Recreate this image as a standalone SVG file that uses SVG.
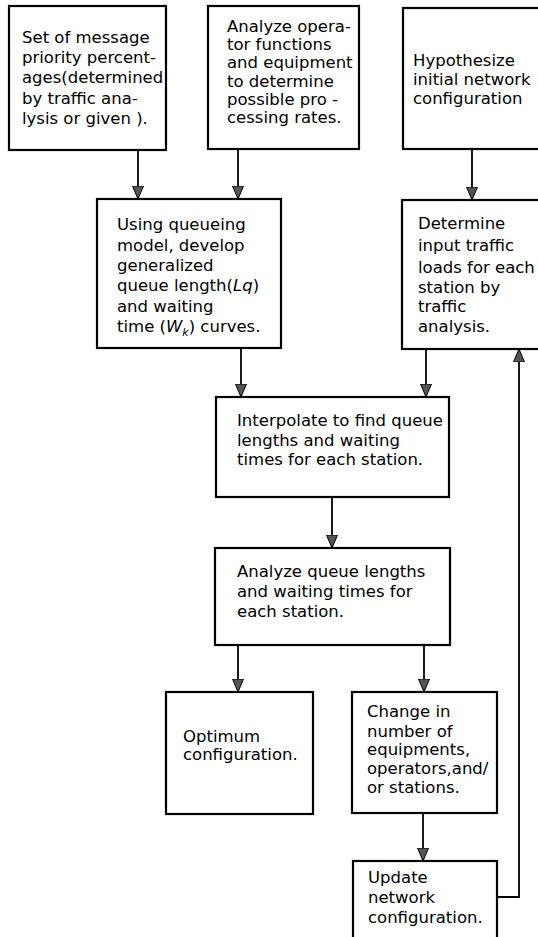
<svg xmlns="http://www.w3.org/2000/svg" width="538" height="937" viewBox="0 0 538 937">
<style>
.box{fill:#fff;stroke:#000;stroke-width:2.2}
.t{font-family:"DejaVu Sans",sans-serif;font-size:16.5px;fill:#000}
.c{fill:none;stroke:#000;stroke-width:1.8}
</style>
<defs>
<marker id="ah" viewBox="0 -6 13 12" refX="13" refY="0" markerWidth="13" markerHeight="12" orient="auto" markerUnits="userSpaceOnUse">
<path d="M0,-5.5 L13,0 L0,5.5 z" fill="#555" stroke="#000" stroke-width="1"/>
</marker>
</defs>
<rect width="538" height="937" fill="#fff"/>
<g id="connectors">
<path class="c" d="M138,150 V199" marker-end="url(#ah)"/>
<path class="c" d="M238,149 V199" marker-end="url(#ah)"/>
<path class="c" d="M472,149 V200" marker-end="url(#ah)"/>
<path class="c" d="M241,348 V397" marker-end="url(#ah)"/>
<path class="c" d="M426,349 V397" marker-end="url(#ah)"/>
<path class="c" d="M332,497 V548" marker-end="url(#ah)"/>
<path class="c" d="M238,645 V692" marker-end="url(#ah)"/>
<path class="c" d="M424,645 V692" marker-end="url(#ah)"/>
<path class="c" d="M423,813 V861" marker-end="url(#ah)"/>
<path class="c" d="M497,897 H519 V349" marker-end="url(#ah)"/>
</g>
<g id="n1">
<rect class="box" x="9" y="6" width="157" height="144"/>
<text class="t" x="22" y="43">Set of message</text>
<text class="t" x="22" y="63">priority percent-</text>
<text class="t" x="22" y="83">ages(determined</text>
<text class="t" x="22" y="104">by traffic ana-</text>
<text class="t" x="22" y="124">lysis or given ).</text>
</g>
<g id="n2">
<rect class="box" x="208" y="6" width="151" height="143"/>
<text class="t" x="227" y="32">Analyze opera-</text>
<text class="t" x="227" y="50">tor functions</text>
<text class="t" x="227" y="68">and equipment</text>
<text class="t" x="227" y="87">to determine</text>
<text class="t" x="227" y="105">possible pro -</text>
<text class="t" x="227" y="123">cessing rates.</text>
</g>
<g id="n3">
<rect class="box" x="403" y="8" width="150" height="141"/>
<text class="t" x="413" y="66">Hypothesize</text>
<text class="t" x="413" y="85">initial network</text>
<text class="t" x="413" y="104">configuration</text>
</g>
<g id="n4">
<rect class="box" x="97" y="199" width="184" height="149"/>
<text class="t" x="117" y="230">Using queueing</text>
<text class="t" x="117" y="251">model, develop</text>
<text class="t" x="117" y="271">generalized</text>
<text class="t" x="117" y="291">queue length(<tspan font-style="italic">Lq</tspan>)</text>
<text class="t" x="117" y="312">and waiting</text>
<text class="t" x="117" y="332">time (<tspan font-style="italic">W<tspan font-size="11" dy="4">k</tspan></tspan><tspan dy="-4">) curves.</tspan></text>
</g>
<g id="n5">
<rect class="box" x="402" y="200" width="150" height="149"/>
<text class="t" x="418" y="229">Determine</text>
<text class="t" x="418" y="251">input traffic</text>
<text class="t" x="418" y="273">loads for each</text>
<text class="t" x="418" y="293">station by</text>
<text class="t" x="418" y="312">traffic</text>
<text class="t" x="418" y="332">analysis.</text>
</g>
<g id="n6">
<rect class="box" x="216" y="397" width="233" height="100"/>
<text class="t" x="237" y="426">Interpolate to find queue</text>
<text class="t" x="237" y="446">lengths and waiting</text>
<text class="t" x="237" y="465">times for each station.</text>
</g>
<g id="n7">
<rect class="box" x="215" y="548" width="235" height="97"/>
<text class="t" x="237" y="577">Analyze queue lengths</text>
<text class="t" x="237" y="597">and waiting times for</text>
<text class="t" x="237" y="617">each station.</text>
</g>
<g id="n8">
<rect class="box" x="166" y="692" width="147" height="122"/>
<text class="t" x="183" y="742">Optimum</text>
<text class="t" x="183" y="760">configuration.</text>
</g>
<g id="n9">
<rect class="box" x="352" y="692" width="145" height="121"/>
<text class="t" x="367" y="717">Change in</text>
<text class="t" x="367" y="737">number of</text>
<text class="t" x="367" y="755">equipments,</text>
<text class="t" x="367" y="774">operators,and/</text>
<text class="t" x="367" y="793">or stations.</text>
</g>
<g id="n10">
<rect class="box" x="353" y="861" width="144" height="90"/>
<text class="t" x="368" y="883">Update</text>
<text class="t" x="368" y="903">network</text>
<text class="t" x="368" y="923">configuration.</text>
</g>
</svg>
